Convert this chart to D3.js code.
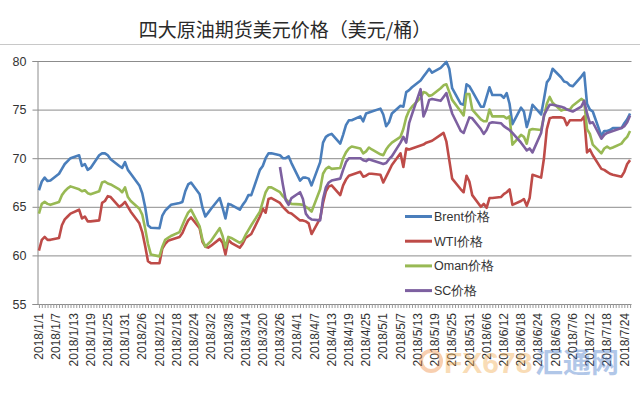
<!DOCTYPE html>
<html>
<head>
<meta charset="utf-8">
<script src="https://cdn.jsdelivr.net/npm/d3@7"></script>
<style>
  body { margin: 0; background: #fff; }
  svg { display: block; }
</style>
</head>
<body>
<div id="chart"></div>
<script>
// chart values, one per trading day (Mon-Fri) from 2018/1/1 to 2018/7/26
var title = '四大原油期货美元价格（美元/桶）';
var seriesNames = ['Brent价格', 'WTI价格', 'Oman价格', 'SC价格'];
var yTicks = [55, 60, 65, 70, 75, 80];
var firstDay = new Date(2018, 0, 1), lastDay = new Date(2018, 6, 26);
var scFirstDay = new Date(2018, 2, 26); // SC starts trading 3/26

var brent = [
  66.7, 67.6, 68.0, 67.65, 67.7,   68.4, 68.9, 69.4, 69.7, 70.0,
  70.3, 69.2, 69.4, 68.8, 69.0,    70.3, 70.5, 70.5, 70.3, 69.9,
  69.2, 69.0, 69.6, 68.8, 68.4,    67.2, 66.4, 65.0, 63.1, 62.85,
  62.8, 64.1, 64.6, 64.9, 65.2,    65.4, 65.5, 66.6, 67.3, 67.5,
  66.3, 64.9, 64.0, 64.4, 64.8,    65.9, 64.9, 63.8, 65.3, 65.2,
  64.7, 65.2, 65.6, 66.2, 66.2,    68.8, 69.2, 70.0, 70.5, 70.5,
  70.3, 70.0, 70.0, 70.2, 69.5,    67.7, 68.0, 68.0, 67.9, 67.2,
  69.6, 71.6, 72.2, 72.4, 72.5,    71.5, 72.4, 73.4, 73.9, 73.9,
  74.3, 73.8, 74.6, 74.7, 74.8,    75.1, 74.5, 73.3, 73.7, 74.6,
  75.4, 75.3, 76.8, 77.0, 77.3,    78.0, 78.4, 78.8, 79.2, 78.8,
  79.3, 79.6, 79.9, 79.2, 77.2,    75.6, 75.5, 77.6, 77.4, 76.9,
  75.3, 75.3, 76.3, 77.3, 76.5,    76.5, 76.2, 76.7, 75.6, 73.5,
  75.2, 74.8, 73.2, 74.2, 75.5,    74.5, 76.1, 77.8, 78.2, 79.2,
  78.3, 77.9, 77.8, 77.5, 77.4,    78.4, 78.8, 75.6, 75.0, 74.8,
  72.3, 72.8, 72.8, 72.9, 73.1,    73.1, 73.6, 74.0, 74.6
];
var wti = [
  60.5, 61.6, 61.9, 61.6, 61.6,    61.8, 63.1, 63.7, 64.0, 64.3,
  64.7, 63.8, 64.0, 63.5, 63.5,    63.6, 65.4, 65.6, 66.1, 66.0,
  65.0, 65.2, 65.5, 65.0, 64.5,    63.3, 62.4, 61.0, 59.4, 59.2,
  59.2, 60.7, 61.2, 61.5, 61.6,    61.9, 62.3, 63.0, 63.6, 63.9,
  62.8, 61.4, 60.9, 60.8, 61.0,    61.7, 61.3, 60.1, 61.6, 61.3,
  60.8, 61.2, 61.8, 62.0, 62.2,    64.0, 64.8, 64.4, 65.8, 65.9,
  65.4, 65.0, 64.7, 64.4, 64.3,    63.6, 63.6, 63.5, 63.3, 62.2,
  63.8, 65.4, 66.6, 67.1, 67.2,    66.2, 67.2, 67.8, 68.2, 68.3,
  68.6, 68.1, 68.2, 68.4, 68.4,    68.3, 67.5, 68.1, 68.7, 69.3,
  70.5, 69.1, 71.0, 70.9, 71.0,    71.3, 71.4, 71.6, 71.7, 71.8,
  72.4, 72.6, 71.7, 69.8, 67.9,    66.8, 66.5, 68.2, 67.6, 66.2,
  65.0, 65.3, 64.9, 65.9, 65.9,    66.0, 66.3, 66.5, 66.8, 65.2,
  65.6, 65.8, 65.1, 65.9, 68.3,    68.0, 70.0, 73.0, 74.1, 74.2,
  74.2, 74.1, 73.4, 73.9, 73.9,    73.9, 74.3, 70.6, 70.9, 70.3,
  68.9, 68.8, 68.6, 68.4, 68.3,    68.1, 68.6, 69.4, 69.8
];
var oman = [
  64.3, 65.3, 65.5, 65.3, 65.2,    65.5, 66.2, 66.6, 66.9, 67.1,
  66.8, 66.6, 66.7, 66.4, 66.3,    66.6, 67.5, 67.6, 67.4, 67.3,
  66.8, 66.5, 67.0, 66.0, 65.6,    64.8, 64.2, 62.8, 61.2, 60.1,
  59.9, 60.9, 61.6, 61.8, 62.0,    62.4, 63.1, 63.8, 64.4, 64.7,
  63.0, 61.6, 60.9, 61.2, 61.5,    62.8, 62.0, 60.8, 61.9, 61.8,
  61.3, 61.5, 62.1, 62.6, 63.1,    64.5, 65.5, 66.5, 67.0, 67.0,
  66.5, 66.1, 65.8, 65.5, 65.3,    65.25, 65.2, 65.0, 64.8, 64.5,
  66.8, 68.4, 68.9, 69.1, 68.9,    69.0, 70.0, 70.6, 71.0, 71.2,
  71.0, 70.5, 70.7, 71.1, 70.9,    70.4, 70.3, 70.9, 71.3, 71.6,
  72.2, 73.0, 74.2, 74.9, 75.3,    76.2, 76.8, 76.7, 76.4, 76.5,
  77.2, 77.5, 77.6, 76.8, 76.0,    74.8, 74.4, 76.6, 76.6, 75.0,
  74.0, 73.8, 73.8, 75.0, 74.3,    74.3, 74.3, 74.1, 74.3, 71.4,
  72.4, 72.2, 71.5, 72.9, 73.0,    72.9, 74.3, 75.6, 76.3, 75.7,
  74.9, 75.0, 75.0, 75.0, 75.4,    76.1, 75.9, 73.0, 72.5, 71.4,
  70.5, 71.0, 71.2, 71.0, 71.1,    71.5, 71.9, 72.2, 72.8
];
var sc = [
  69.1, 67.3, 65.7, 65.2, 65.9,    66.5, 65.8, 64.3, 63.9, 63.7,
  63.6, 65.8, 67.0, 67.5, 67.7,    67.9, 68.8, 69.6, 70.0, 70.0,
  70.0, 69.8, 69.7, 69.9, 69.8,    69.5, 69.4, 69.5, 69.9, 70.2,
  71.6, 72.2, 71.6, 73.6, 74.5,    77.1, 74.3, 75.0, 76.0, 76.1,
  75.9, 76.3, 76.7, 75.6, 74.6,    72.8, 72.6, 73.4, 74.2, 74.1,
  73.0, 72.5, 72.9, 73.6, 73.7,    73.6, 73.3, 73.1, 72.9, 72.6,
  71.6, 71.2, 70.8, 71.0, 70.6,    72.6, 74.4, 75.0, 75.5, 75.5,
  75.3, 75.2, 75.0, 74.9, 74.8,    75.3, 75.9, 74.6, 73.6, 73.7,
  72.0, 72.4, 72.6, 72.7, 72.8,    73.1, 73.3, 73.7, 74.4
];
var colors = ['#4a7ebb', '#be4b48', '#98b954', '#7d60a0'];

var w = 640, h = 398;
var plotL = 37.5, plotR = 631.5, plotT = 61, plotB = 304;

var svg = d3.select('#chart').append('svg')
    .attr('width', w)
    .attr('height', h)
    .style('font-family', '"Liberation Sans", Arial, sans-serif');

// every calendar day is one slot on the axis
var days = d3.timeDay.range(firstDay, d3.timeDay.offset(lastDay, 1));
var x = d3.scaleTime()
    .domain([d3.timeHour.offset(firstDay, -12), d3.timeHour.offset(lastDay, 12)])
    .range([plotL, plotR]);
var y = d3.scaleLinear().domain([55, 80]).range([plotB, plotT]);

var tradeDays = days.filter(function(d) { return d.getDay() > 0 && d.getDay() < 6; });
function toPoints(vals, from) {
  var dd = tradeDays.filter(function(d) { return d >= from; });
  return vals.map(function(v, i) { return { date: dd[i], v: v }; });
}
var series = [toPoints(brent, firstDay), toPoints(wti, firstDay),
              toPoints(oman, firstDay), toPoints(sc, scFirstDay)];

// frame line on top
svg.append('line').attr('x1', 0).attr('x2', w).attr('y1', 44.5).attr('y2', 44.5)
  .attr('stroke', '#c8c8c8');

svg.append('text')
  .attr('x', 285).attr('y', 37)
  .attr('text-anchor', 'middle')
  .style('font-family', '"Noto Sans CJK SC", sans-serif')
  .style('font-size', '19px')
  .attr('fill', '#2a2a2a')
  .text(title);

// gridlines
svg.append('g')
  .attr('transform', 'translate(' + plotL + ',0)')
  .call(d3.axisLeft(y).tickValues(yTicks.slice(1)).tickSize(-(plotR - plotL)).tickFormat(''))
  .call(function(g) { g.select('.domain').remove(); })
  .selectAll('line').attr('stroke', '#8c8c8c');

// y axis
var ya = svg.append('g')
  .attr('transform', 'translate(' + plotL + ',0)')
  .call(d3.axisLeft(y).tickValues(yTicks).tickSize(5).tickPadding(6));
ya.select('.domain').attr('stroke', '#8c8c8c');
ya.selectAll('line').attr('stroke', '#8c8c8c');
ya.selectAll('text').style('font-size', '12.5px').attr('fill', '#333');

// x axis: daily minor ticks, labels every 6 days
var xa = svg.append('g')
  .attr('transform', 'translate(0,' + plotB + ')')
  .call(d3.axisBottom(x).tickValues(days).tickSize(4).tickFormat(''));
xa.select('.domain').attr('stroke', '#8c8c8c').attr('d', 'M' + plotL + ',0.5H' + plotR);
xa.selectAll('line').attr('stroke', '#9a9a9a');

var labelDays = days.filter(function(d, i) { return i % 6 === 0; });
var fmt = d3.timeFormat('%Y/%-m/%-d');
svg.append('g').selectAll('text')
  .data(labelDays)
  .enter().append('text')
    .attr('transform', function(d) { return 'translate(' + x(d) + ',313) rotate(-90)'; })
    .attr('text-anchor', 'end')
    .attr('dy', '0.35em')
    .style('font-size', '12px')
    .attr('fill', '#333')
    .text(fmt);

// lines
var line = d3.line()
  .x(function(d) { return x(d.date); })
  .y(function(d) { return y(d.v); });

svg.append('g').selectAll('path')
  .data(series)
  .enter().append('path')
    .attr('d', line)
    .attr('fill', 'none')
    .attr('stroke', function(d, i) { return colors[i]; })
    .attr('stroke-width', 2.6)
    .attr('stroke-linejoin', 'round');

// legend
var legend = svg.append('g').selectAll('g')
  .data(seriesNames)
  .enter().append('g')
    .attr('transform', function(d, i) { return 'translate(405,' + (216.5 + i * 24.7) + ')'; });
legend.append('line')
  .attr('x1', 0).attr('x2', 27)
  .attr('stroke', function(d, i) { return colors[i]; })
  .attr('stroke-width', 3);
legend.append('text')
  .attr('x', 29).attr('dy', '0.36em')
  .style('font-size', '12.5px')
  .attr('fill', '#333')
  .text(function(d) { return d; });

// watermark
var wm = svg.append('g').attr('opacity', 0.4);
wm.append('circle').attr('cx', 431).attr('cy', 361).attr('r', 10)
  .attr('fill', 'none').attr('stroke', '#f08a3c').attr('stroke-width', 4);
wm.append('text').attr('x', 444).attr('y', 373)
  .style('font-size', '30px').style('font-weight', 'bold')
  .attr('fill', '#f2a94a').text('FX678');
wm.append('text').attr('x', 535).attr('y', 373)
  .style('font-family', '"Noto Sans CJK SC", sans-serif')
  .style('font-size', '28px').style('font-weight', 'bold')
  .attr('fill', '#3f74c8').text('汇通网');
</script>
</body>
</html>
